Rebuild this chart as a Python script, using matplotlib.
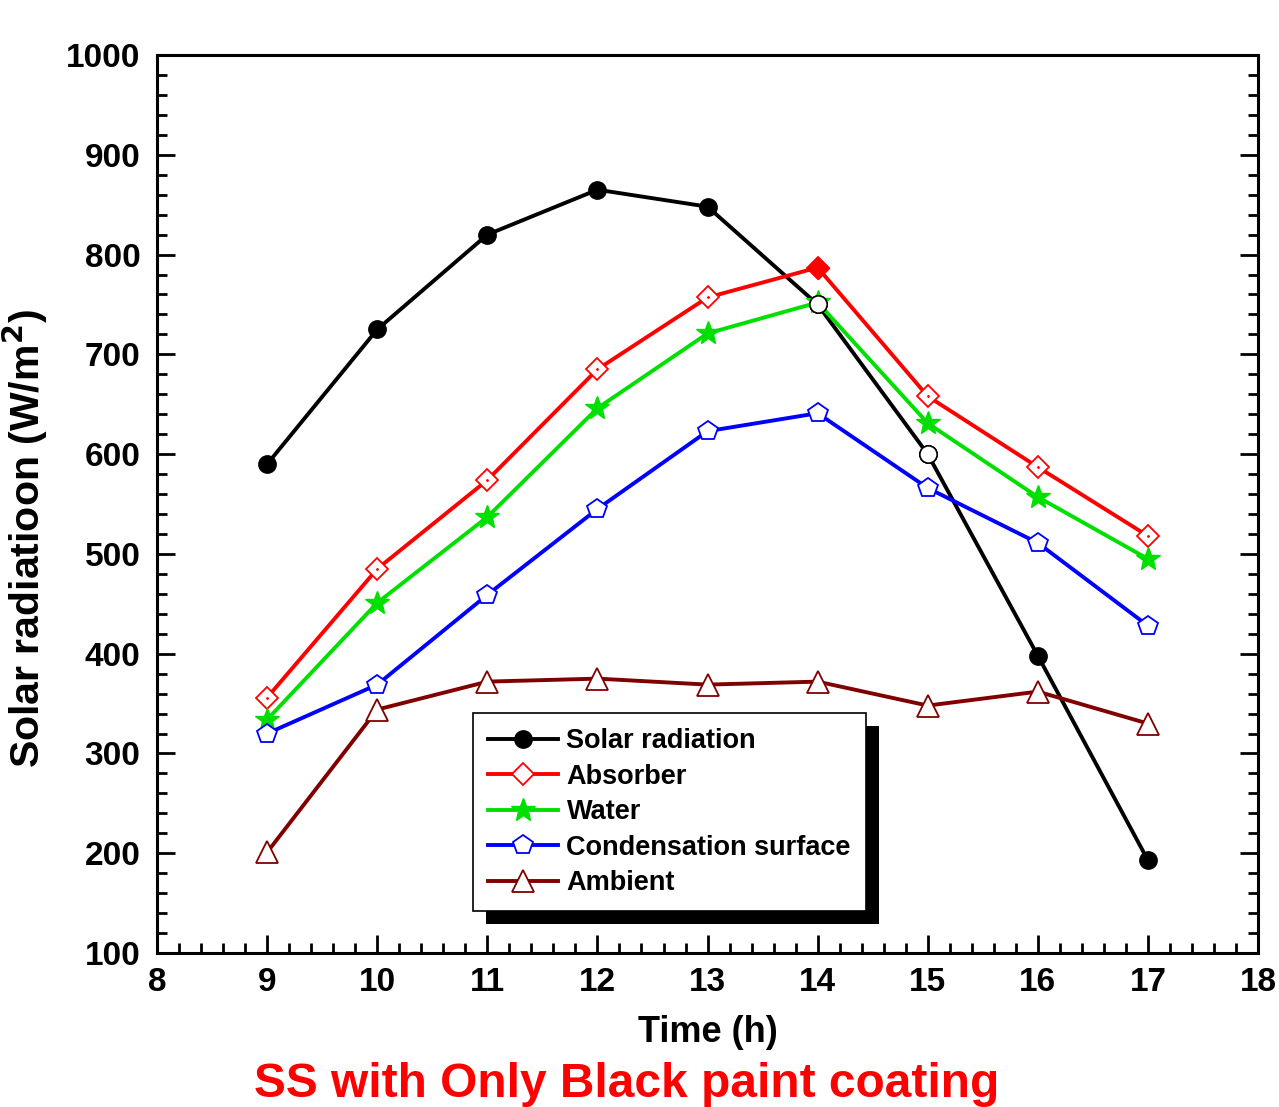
import matplotlib.pyplot as plt
from matplotlib.patches import Rectangle
from matplotlib.ticker import MultipleLocator
from matplotlib.transforms import IdentityTransform

plt.rcParams['font.family'] = ['Liberation Sans', 'DejaVu Sans']
plt.rcParams['font.weight'] = 'bold'

hours = [9, 10, 11, 12, 13, 14, 15, 16, 17]
solar = [590, 725, 820, 865, 848, 750, 600, 398, 193]
absorber = [356, 485, 574, 685, 757, 787, 658, 587, 518]
water = [334, 451, 537, 646, 721, 752, 631, 557, 495]
condensation = [320, 369, 459, 545, 623, 641, 566, 511, 428]
ambient = [201, 344, 372, 375, 369, 372, 348, 362, 330]

fig = plt.figure(figsize=(12.79, 11.07), dpi=100)
ax = fig.add_axes([0.1228, 0.1391, 0.8608, 0.8112])

lw = 2.8
ax.plot(hours, solar, color='black', lw=lw, marker='o', ms=12.5,
        mfc='black', mec='black', label='Solar radiation', zorder=3)
# open circles at 14 and 15
ax.plot(hours[5:7], solar[5:7], ls='none', marker='o', ms=12.5,
        mfc='white', mec='black', mew=1.2, zorder=4)
ax.plot(hours, absorber, color='red', lw=lw, marker='D', ms=11.5,
        mfc='white', mec='red', mew=1.3, label='Absorber', zorder=3)
ax.plot(hours, absorber, ls='none', marker='.', ms=2, color='red', zorder=5)
ax.plot(hours[5], absorber[5], ls='none', marker='D', ms=11.5,
        mfc='red', mec='red', zorder=5)
ax.plot(hours, water, color='#00e000', lw=lw, marker='*', ms=18,
        mfc='#00e000', mec='#00e000', label='Water', zorder=3)
ax.plot(hours, condensation, color='#0000ff', lw=lw, marker='p', ms=15,
        mfc='white', mec='#0000ff', mew=1.3, label='Condensation surface', zorder=3)
ax.plot(hours, ambient, color='#800000', lw=lw, marker='^', ms=15.5,
        mfc='white', mec='#800000', mew=1.3, label='Ambient', zorder=3)

ax.set_xlim(8, 18)
ax.set_ylim(100, 1000)
ax.xaxis.set_major_locator(MultipleLocator(1))
ax.xaxis.set_minor_locator(MultipleLocator(0.2))
ax.yaxis.set_major_locator(MultipleLocator(100))
ax.yaxis.set_minor_locator(MultipleLocator(20))
ax.tick_params(which='both', direction='in', width=2, right=True, top=False,
               labelsize=24)
ax.tick_params(which='major', length=13)
ax.tick_params(which='minor', length=7)
ax.tick_params(axis='y', pad=12)
ax.tick_params(axis='x', pad=10)
for sp in ax.spines.values():
    sp.set_linewidth(2.2)

ax.set_xlabel('Time (h)', fontsize=26, fontweight='bold', labelpad=12)
ax.set_ylabel('Solar radiatioon (W/m$^\\mathbf{2}$)', fontsize=29.5,
              fontweight='bold')
ax.yaxis.set_label_coords(-0.097, 0.462)

leg = ax.legend(loc='upper left', bbox_to_anchor=(0.287, 0.267), fontsize=19.5,
                frameon=True, fancybox=False, edgecolor='black', framealpha=1,
                handlelength=2.6, labelspacing=0.35, handletextpad=0.3,
                borderpad=0.55, borderaxespad=0)
leg.get_frame().set_linewidth(1.2)
leg.set_zorder(10)

fig.text(0.49, 0.02, 'SS with Only Black paint coating', color='red',
         fontsize=34.5, fontweight='bold', ha='center', va='center')

fig.canvas.draw()
bb = leg.get_window_extent()
shadow = Rectangle((bb.x0 + 13, bb.y0 - 13), bb.width, bb.height,
                   transform=IdentityTransform(), facecolor='black',
                   edgecolor='none', zorder=9)
ax.add_artist(shadow)

fig.savefig('out.png', dpi=100)
